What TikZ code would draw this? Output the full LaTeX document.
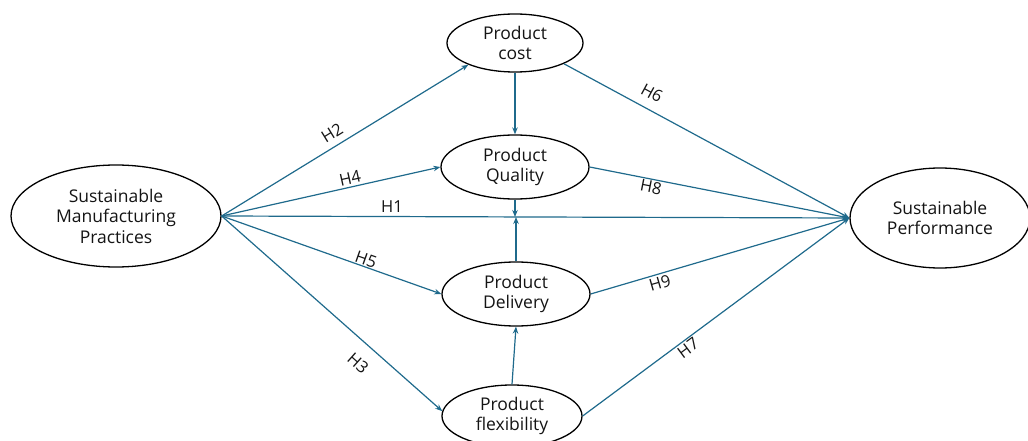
\documentclass[tikz,border=0pt]{standalone}
\usepackage{fontspec}
\setmainfont{Open Sans}
\usetikzlibrary{shapes.geometric,arrows.meta}
\definecolor{arrc}{RGB}{31,106,140}
\definecolor{txt}{RGB}{20,20,20}
\begin{document}
\begin{tikzpicture}[x=1pt,y=-1pt,
 ell/.style={ellipse, draw=black, line width=1.3pt, inner sep=0pt, align=center, text=txt, font=\fontsize{17.5}{20.5}\selectfont},
 arr/.style={draw=arrc, line width=1.2pt, -{Stealth[length=7pt,width=5.5pt]}},
 lbl/.style={font=\fontsize{16.5}{19}\selectfont, text=txt, inner sep=0pt}]
\useasboundingbox (0,0) rectangle (1028,441);
\node[ell, minimum width=210pt, minimum height=102pt] (smp) at (116,216) {Sustainable\\Manufacturing\\Practices};
\node[ell, minimum width=180pt, minimum height=100pt] (sp) at (940,218) {Sustainable\\Performance};
\node[ell, minimum width=136pt, minimum height=58pt] (cost) at (515,43) {Product\\cost};
\node[ell, minimum width=148pt, minimum height=64pt] (qual) at (515,167) {Product\\Quality};
\node[ell, minimum width=148pt, minimum height=64pt] (del) at (516,294) {Product\\Delivery};
\node[ell, minimum width=140pt, minimum height=62pt] (flex) at (512,416) {Product\\flexibility};
\coordinate (m) at (516,217);
\draw[arr] (smp.east) -- (cost.205);
\draw[arr] (smp.east) -- (qual.west);
\draw[arr] (smp.east) -- (sp.west);
\draw[arr] (smp.east) -- (del.west);
\draw[arr] (smp.east) -- (flex.176);
\draw[arr] (cost.south) -- (qual.north);
\draw[arr] (qual.south) -- (qual.south |- m);
\draw[arr] (del.north) -- (del.north |- m);
\draw[arr] (flex.north) -- (del.south);
\draw[arr] (cost.-23) -- (sp.west);
\draw[arr] (qual.east) -- (sp.west);
\draw[arr] (del.east) -- (sp.west);
\draw[arr] (flex.east) -- (sp.west);
\node[lbl, rotate=31.5] (h2) at (332,133) {H2};
\node[lbl, rotate=12.6] (h4) at (350,178) {H4};
\node[lbl] (h1) at (392,207) {H1};
\node[lbl, rotate=-19.5] (h5) at (366,260) {H5};
\node[lbl, rotate=-41.7] (h3) at (358,363) {H3};
\node[lbl, rotate=-28.4] (h6) at (652,93) {H6};
\node[lbl, rotate=-11] (h8) at (651,187) {H8};
\node[lbl, rotate=16] (h9) at (660,283) {H9};
\node[lbl, rotate=36.6] (h7) at (688,348) {H7};
\end{tikzpicture}
\end{document}
